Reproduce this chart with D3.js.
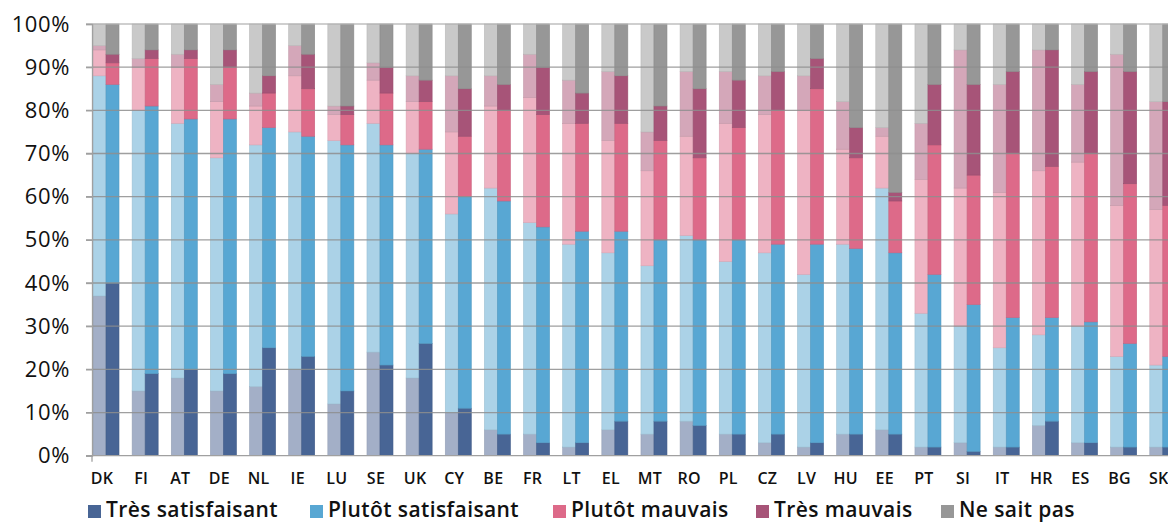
<!DOCTYPE html>
<html>
<head>
<meta charset="utf-8">
<script src="https://cdn.jsdelivr.net/npm/d3@7"></script>
<style>
  body { margin: 0; background: #fff; }
  svg { display: block; font-family: "Open Sans", "Noto Sans", sans-serif; }
</style>
</head>
<body>
<div id="chart"></div>
<script>
const countries = ["DK", "FI", "AT", "DE", "NL", "IE", "LU", "SE", "UK", "CY", "BE", "FR", "LT", "EL",
  "MT", "RO", "PL", "CZ", "LV", "HU", "EE", "PT", "SI", "IT", "HR", "ES", "BG", "SK"];

const seriesNames = ["Très satisfaisant", "Plutôt satisfaisant", "Plutôt mauvais", "Très mauvais", "Ne sait pas"];

// earlier survey (light bars)
const tresSatisfAvant = [37, 15, 18, 15, 16, 20, 12, 24, 18, 10, 6, 5, 2, 6, 5, 8, 5, 3, 2, 5, 6, 2, 3, 2, 7, 3, 2, 2];
const plutotSatisfAvant = [51, 65, 59, 54, 56, 55, 61, 53, 52, 46, 56, 49, 47, 41, 39, 43, 40, 44, 40, 44, 56, 31, 27, 23, 21, 27, 21, 19];
const plutotMauvaisAvant = [6, 10, 13, 13, 9, 13, 6, 10, 12, 19, 19, 29, 28, 26, 22, 23, 32, 32, 38, 22, 12, 31, 32, 36, 38, 38, 35, 36];
const tresMauvaisAvant = [1, 2, 3, 4, 3, 7, 2, 4, 6, 13, 7, 10, 10, 16, 9, 15, 12, 9, 8, 11, 2, 13, 32, 25, 28, 18, 35, 25];
const nspAvant = [5, 8, 7, 14, 16, 5, 19, 9, 12, 12, 12, 7, 13, 11, 25, 11, 11, 12, 12, 18, 24, 23, 6, 14, 6, 14, 7, 18];

// later survey (dark bars)
const tresSatisfApres = [40, 19, 20, 19, 25, 23, 15, 21, 26, 11, 5, 3, 3, 8, 8, 7, 5, 5, 3, 5, 5, 2, 1, 2, 8, 3, 2, 2];
const plutotSatisfApres = [46, 62, 58, 59, 51, 51, 57, 51, 45, 49, 54, 50, 49, 44, 42, 43, 45, 44, 46, 43, 42, 40, 34, 30, 24, 28, 24, 21];
const plutotMauvaisApres = [5, 11, 14, 12, 8, 11, 7, 12, 11, 14, 21, 26, 25, 25, 23, 19, 26, 31, 36, 21, 12, 30, 30, 38, 35, 39, 37, 35];
const tresMauvaisApres = [2, 2, 2, 4, 4, 8, 2, 6, 5, 11, 6, 11, 7, 11, 8, 16, 11, 9, 7, 7, 2, 14, 21, 19, 27, 19, 26, 24];
const nspApres = [7, 6, 6, 6, 12, 7, 19, 10, 13, 15, 14, 10, 16, 12, 19, 15, 13, 11, 8, 24, 39, 14, 14, 11, 6, 11, 11, 18];

const yTicks = [0, 10, 20, 30, 40, 50, 60, 70, 80, 90, 100];

const darkColors = ["#486595", "#58a7d3", "#dd6a89", "#a75478", "#979797"];
const lightColors = ["#a3afc7", "#abd2e7", "#eeb3c3", "#d4a7b9", "#c9c9c9"];

const W = 1168, H = 523;
const svg = d3.select("#chart").append("svg").attr("width", W).attr("height", H);

const x = d3.scaleBand().domain(countries).range([93, 1175.8]).paddingInner(0.3357).paddingOuter(0).align(0);
const xSub = d3.scaleBand().domain(["avant", "apres"]).range([0, x.bandwidth()]);
const y = d3.scaleLinear().domain([0, 100]).range([455.7, 24]);

function stackRows(arrs) {
  return countries.map((c, i) => {
    const row = { country: c };
    seriesNames.forEach((s, k) => { row[s] = arrs[k][i]; });
    return row;
  });
}
const stack = d3.stack().keys(seriesNames);
const periods = [
  { key: "avant", colors: lightColors,
    layers: stack(stackRows([tresSatisfAvant, plutotSatisfAvant, plutotMauvaisAvant, tresMauvaisAvant, nspAvant])) },
  { key: "apres", colors: darkColors,
    layers: stack(stackRows([tresSatisfApres, plutotSatisfApres, plutotMauvaisApres, tresMauvaisApres, nspApres])) },
];

const gBars = svg.append("g");
for (const p of periods) {
  gBars.append("g")
    .selectAll("g")
    .data(p.layers)
    .join("g")
    .attr("fill", (d, k) => p.colors[k])
    .attr("stroke", (d, k) => d3.color(p.colors[k]).darker(0.25))
    .attr("stroke-width", 0.6)
    .selectAll("rect")
    .data((d) => d)
    .join("rect")
    .attr("x", (d) => x(d.data.country) + xSub(p.key))
    .attr("width", xSub.bandwidth())
    .attr("y", (d) => y(d[1]))
    .attr("height", (d) => y(d[0]) - y(d[1]));
}

// gridlines sit over the bars, as in the original
const gGrid = svg.append("g");
gGrid.selectAll("line")
  .data(yTicks.filter((t) => t > 0))
  .join("line")
  .attr("x1", 86)
  .attr("x2", W)
  .attr("y1", (d) => y(d))
  .attr("y2", (d) => y(d))
  .attr("stroke", (d) => (d === 100 ? "#b4b4b4" : "#8e8e8e"))
  .attr("stroke-opacity", 0.85)
  .attr("stroke-width", 1.3);

// y axis
const yAxis = d3.axisLeft(y).tickValues(yTicks).tickSize(6).tickPadding(16).tickFormat((d) => d + "%");
svg.append("g")
  .attr("transform", "translate(92,0)")
  .call(yAxis)
  .call((g) => g.select(".domain").attr("stroke", "#a0a0a0").attr("stroke-width", 1.3))
  .call((g) => g.selectAll(".tick line").attr("stroke", "#a0a0a0").attr("stroke-width", 1.3))
  .call((g) => g.selectAll(".tick text")
    .attr("fill", "#111")
    .attr("font-size", 22)
    .attr("font-weight", 500)
    .attr("letter-spacing", 0.6)
    .attr("font-family", "'Open Sans', sans-serif"));

// x axis line
svg.append("line")
  .attr("x1", 86).attr("x2", W)
  .attr("y1", y(0)).attr("y2", y(0))
  .attr("stroke", "#a0a0a0").attr("stroke-width", 1.3);
svg.append("line")
  .attr("x1", 92).attr("x2", 92)
  .attr("y1", y(0)).attr("y2", y(0) + 6)
  .attr("stroke", "#a0a0a0").attr("stroke-width", 1.3);

// category labels
svg.append("g")
  .selectAll("text")
  .data(countries)
  .join("text")
  .attr("x", (d) => x(d) + x.bandwidth() / 2 - 4)
  .attr("y", 484)
  .attr("text-anchor", "middle")
  .attr("font-size", 16)
  .attr("font-weight", 600)
  .attr("letter-spacing", 0.3)
  .attr("fill", "#111")
  .text((d) => d);

// legend
const legendX = [88, 310, 553, 756, 941];
const legend = svg.append("g")
  .selectAll("g")
  .data(seriesNames)
  .join("g")
  .attr("transform", (d, i) => `translate(${legendX[i]},0)`);
legend.append("rect")
  .attr("x", 0).attr("y", 505)
  .attr("width", 13).attr("height", 13)
  .attr("fill", (d, i) => darkColors[i]);
legend.append("text")
  .attr("x", 18).attr("y", 517)
  .attr("font-size", 21)
  .attr("font-weight", 600)
  .attr("letter-spacing", 0.4)
  .attr("fill", "#111")
  .text((d) => d);
</script>
</body>
</html>
